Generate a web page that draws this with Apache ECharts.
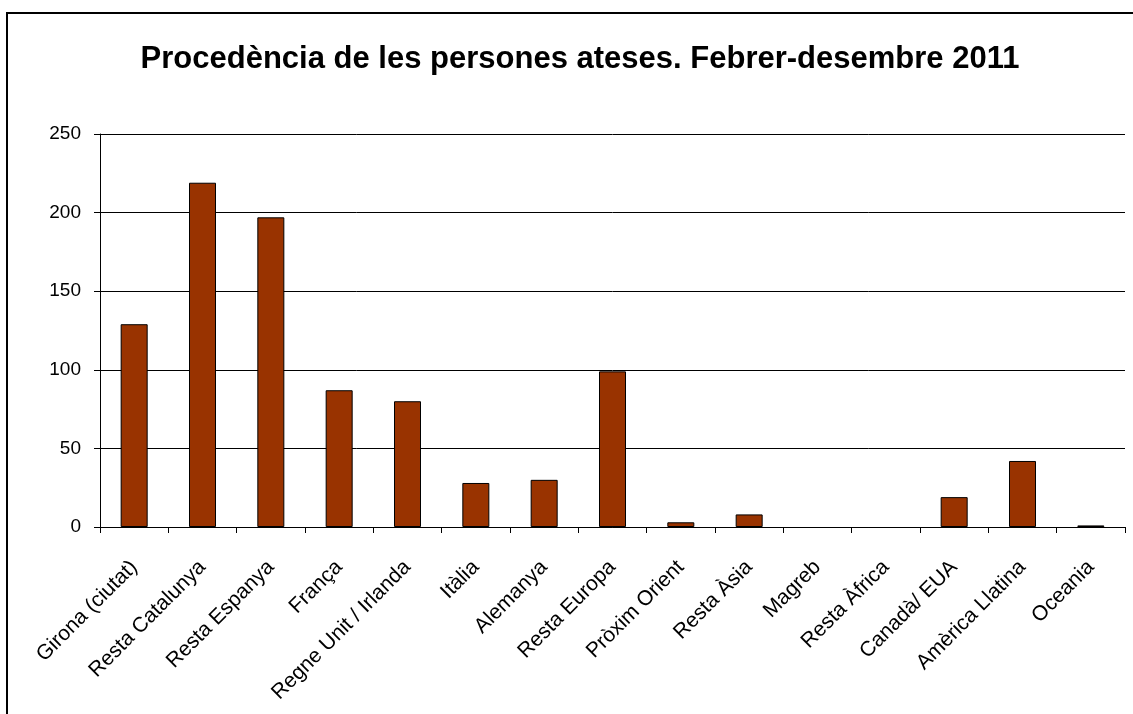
<!DOCTYPE html>
<html>
<head>
<meta charset="utf-8">
<script src="https://cdn.jsdelivr.net/npm/echarts@6/dist/echarts.min.js"></script>
<style>
  html, body { margin: 0; padding: 0; background: #fff; }
  #chart { width: 1133px; height: 714px; }
</style>
</head>
<body>
<div id="chart"></div>
<script>
const categories = [
    'Girona (ciutat)', 'Resta Catalunya', 'Resta Espanya', 'França',
    'Regne Unit / Irlanda', 'Itàlia', 'Alemanya', 'Resta Europa',
    'Pròxim Orient', 'Resta Àsia', 'Magreb', 'Resta Àfrica',
    'Canadà/ EUA', 'Amèrica Llatina', 'Oceania'
];
const persones = [129, 219, 197, 87, 80, 28, 30, 99, 3, 8, 0, 0, 19, 42, 1];
const yTicks = [0, 50, 100, 150, 200, 250];

const chart = echarts.init(document.getElementById('chart'));

// empty categories get no outline, like the original
const barData = persones.map(v => v === 0
    ? { value: v, itemStyle: { borderWidth: 0 } }
    : v);

const option = {
    animation: false,
    backgroundColor: '#ffffff',
    textStyle: { fontFamily: 'Liberation Sans, Arial, sans-serif' },
    title: {
        text: 'Procedència de les persones ateses. Febrer-desembre 2011',
        left: 580,
        textAlign: 'center',
        top: 44,
        padding: 0,
        textStyle: {
            fontSize: 31,
            fontWeight: 'bold',
            color: '#000',
            fontFamily: 'Liberation Sans, Arial, sans-serif'
        }
    },
    graphic: [{
        type: 'rect',
        shape: { x: 7, y: 13, width: 1140, height: 720 },
        style: { fill: 'none', stroke: '#000', lineWidth: 2 },
        silent: true
    }],
    grid: { left: 100, right: 8, top: 134, bottom: 187 },
    xAxis: {
        type: 'category',
        data: categories,
        axisLine: { lineStyle: { color: '#000', width: 1 } },
        axisTick: { show: true, length: 6, lineStyle: { color: '#000' } },
        axisLabel: {
            rotate: 45,
            interval: 0,
            fontSize: 21,
            color: '#000',
            margin: 37
        }
    },
    yAxis: {
        type: 'value',
        min: yTicks[0],
        max: yTicks[yTicks.length - 1],
        interval: 50,
        axisLine: { show: true, lineStyle: { color: '#000' } },
        axisTick: { show: true, length: 6, lineStyle: { color: '#000' } },
        axisLabel: { fontSize: 19, color: '#000', margin: 19 },
        splitLine: { show: true, lineStyle: { color: '#000', width: 1 } }
    },
    series: [{
        type: 'bar',
        data: barData,
        barWidth: 27,
        itemStyle: {
            color: '#993300',
            borderColor: '#000',
            borderWidth: 1
        }
    }]
};

chart.setOption(option);
</script>
</body>
</html>
